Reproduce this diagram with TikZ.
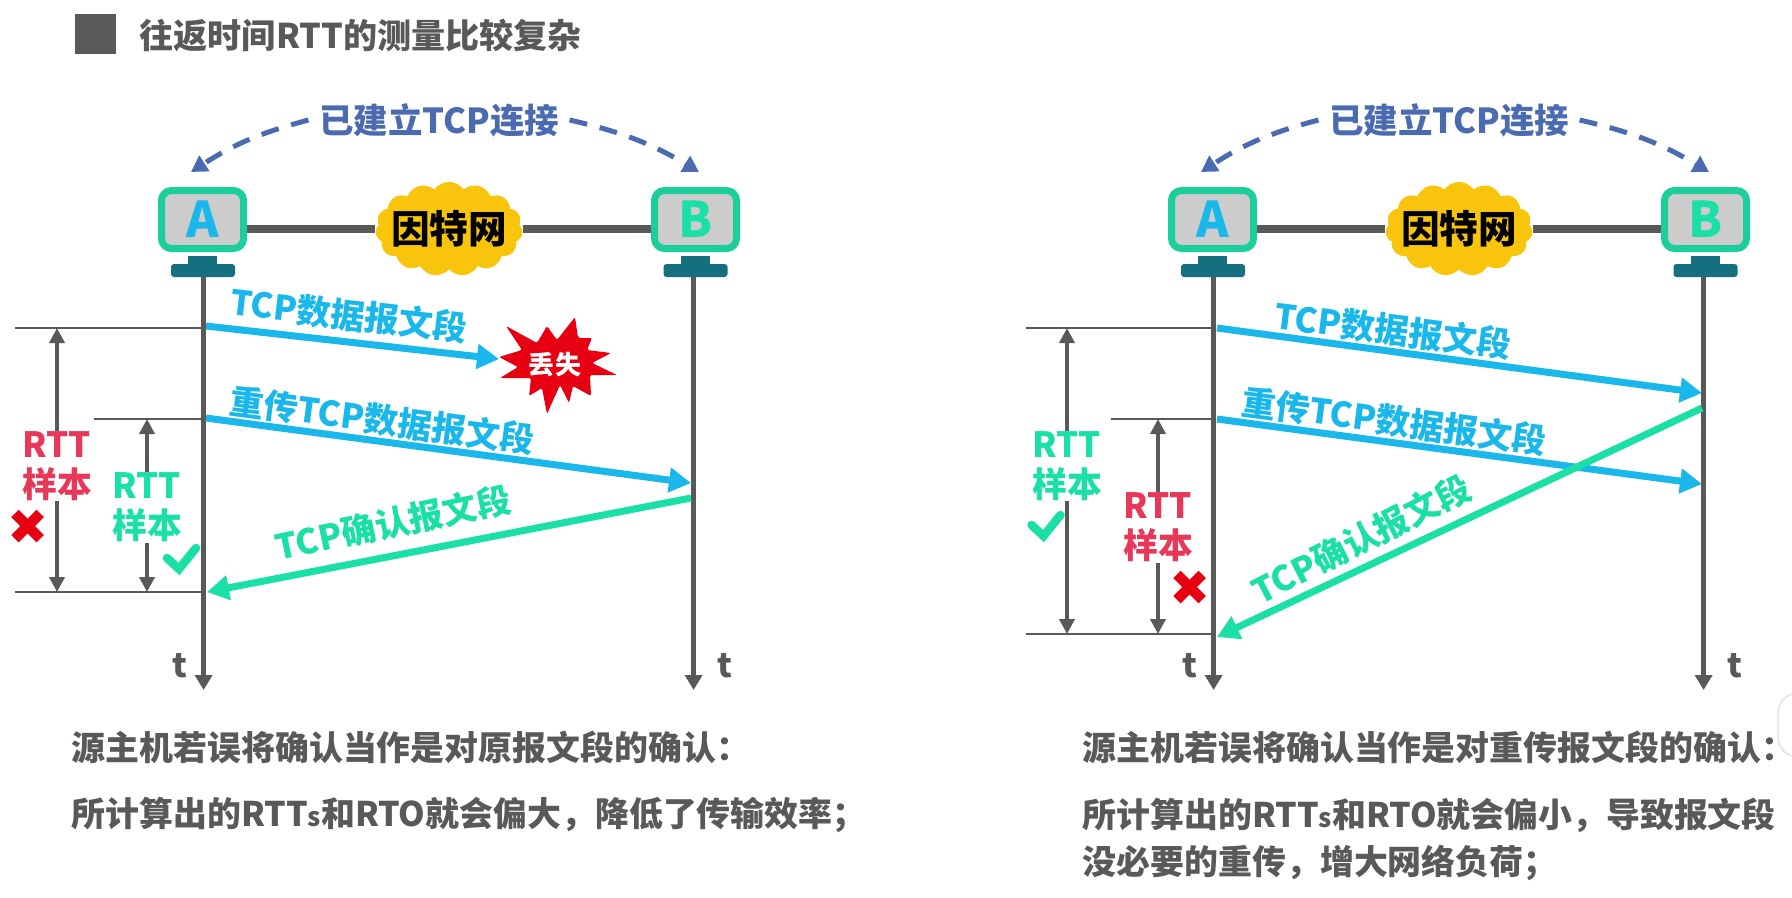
\documentclass[tikz,border=0pt]{standalone}
\usepackage{fontspec}
\setmainfont{Noto Sans CJK SC}
\usetikzlibrary{arrows.meta,positioning,shapes.symbols}
\definecolor{txtgray}{HTML}{595959}
\definecolor{cyanblue}{HTML}{1AB8EA}
\definecolor{mintgreen}{HTML}{1ADFA6}
\definecolor{rttred}{HTML}{E8385A}
\definecolor{markred}{HTML}{E60012}
\definecolor{monitorgreen}{HTML}{1CCF9A}
\definecolor{standteal}{HTML}{14707F}
\definecolor{linkblue}{HTML}{4A6BB0}
\definecolor{cloudyellow}{HTML}{F8C50C}
\newcommand{\smalls}{{\fontsize{7.4pt}{7.4pt}\selectfont s}}
\tikzset{
  monitorbox/.style={draw=monitorgreen,line width=0.7mm,rounded corners=1mm,fill=black!20,minimum width=0.82cm,minimum height=0.58cm,inner sep=0pt,font=\fontsize{14pt}{14pt}\selectfont\bfseries},
  neckbox/.style={fill=standteal,minimum width=0.29cm,minimum height=0.09cm,inner sep=0pt},
  basebox/.style={fill=standteal,rounded corners=0.3mm,minimum width=0.64cm,minimum height=0.13cm,inner sep=0pt},
  netcloud/.style={cloud,cloud puffs=15,cloud puff arc=110,aspect=1.75,fill=cloudyellow,inner sep=-0.8mm,font=\fontsize{11pt}{11pt}\selectfont\bfseries},
  netlink/.style={draw=txtgray,line width=0.8mm},
  timeline/.style={draw=txtgray,line width=0.55mm,-{Triangle[length=1.5mm,width=1.7mm]}},
  linkarrow/.style={draw=linkblue,line width=0.5mm,dash pattern=on 1.8mm off 1.3mm,-{Triangle[length=1.6mm,width=1.8mm]}},
  linklabel/.style={text=linkblue,font=\fontsize{9.8pt}{9.8pt}\selectfont\bfseries,inner sep=1mm},
  dataarrow/.style={draw=cyanblue,line width=0.7mm,-{Triangle[length=2.2mm,width=2.4mm]}},
  ackarrow/.style={draw=mintgreen,line width=0.7mm,-{Triangle[length=2.2mm,width=2.4mm]}},
  datalabel/.style={text=cyanblue,font=\fontsize{9.75pt}{9.75pt}\selectfont\bfseries,inner sep=0pt},
  acklabel/.style={text=mintgreen,font=\fontsize{9.8pt}{9.8pt}\selectfont\bfseries,inner sep=0pt},
  lostburst/.style={fill=markred,rounded corners=0.2mm},
  lostlabel/.style={text=white,inner sep=0pt,font=\fontsize{7.4pt}{7.4pt}\selectfont\bfseries},
  tickline/.style={draw=txtgray,line width=0.25mm},
  spanarrow/.style={draw=txtgray,line width=0.4mm,-{Triangle[length=1.5mm,width=1.5mm]}},
  rttred/.style={text=rttred,align=center,inner sep=0pt,font=\fontsize{9.9pt}{11.4pt}\selectfont\bfseries},
  rttgreen/.style={text=mintgreen,align=center,inner sep=0pt,font=\fontsize{9.9pt}{11.4pt}\selectfont\bfseries},
  crossmark/.style={text=markred,inner sep=0pt,font=\fontspec{DejaVu Sans}\fontsize{14pt}{14pt}\selectfont},
  checkmark/.style={draw=mintgreen,line width=0.85mm,line cap=round,line join=miter},
  timelabel/.style={text=txtgray,inner sep=0pt,font=\fontsize{9.5pt}{9.5pt}\selectfont\bfseries},
  bodytext/.style={text=txtgray,anchor=west,inner sep=0pt,font=\fontsize{9.65pt}{9.65pt}\selectfont\bfseries},
  edgetab/.style={draw=black!12,fill=white,rounded corners=2mm}
}
\begin{document}
\begin{tikzpicture}
\useasboundingbox (0,0) rectangle (17.92,-8.97);
\node[fill=black!65,minimum width=0.41cm,minimum height=0.40cm,inner sep=0pt] (mark) at (0.955,-0.34) {};
\node[bodytext,font=\fontsize{9.7pt}{9.7pt}\selectfont\bfseries] (title) at (1.39,-0.35) {往返时间RTT的测量比较复杂};
% left case
\node[monitorbox,text=cyanblue] (ma) at (2.025,-2.195) {A};
\node[monitorbox,text=mintgreen] (mb) at (6.955,-2.195) {B};
\node[neckbox] (na) at (2.025,-2.6) {};
\node[neckbox] (nb) at (6.955,-2.6) {};
\node[basebox] (ba) at (2.03,-2.705) {};
\node[basebox] (bb) at (6.955,-2.705) {};
\node[netcloud] (cl) at (4.49,-2.29) {因特网};
\draw[netlink] (ma.east |- cl.west) -- (cl.west);
\draw[netlink] (cl.east) -- (mb.west |- cl.east);
\node[linklabel] (lb) at (4.39,-1.2) {已建立TCP连接};
\coordinate (la) at (1.91,-1.72);
\coordinate (lc) at (6.99,-1.72);
\draw[linkarrow] (lb.west) to[bend right=9] (la);
\draw[linkarrow] (lb.east) to[bend left=9] (lc);
\coordinate (ta) at (2.036,-2.77);
\coordinate (tb) at (6.936,-2.77);
\coordinate (ea) at (2.036,-6.9);
\coordinate (eb) at (6.936,-6.9);
\draw[timeline] (ta) -- (ea);
\draw[timeline] (tb) -- (eb);
\node[timelabel] (tl) at (1.8,-6.66) {t};
\node[timelabel] (tr) at (7.25,-6.66) {t};
\fill[lostburst] (5.06,-3.26) -- (5.37,-3.43) -- (5.47,-3.26) -- (5.57,-3.40) -- (5.75,-3.17) -- (5.78,-3.38) -- (5.92,-3.38) -- (5.87,-3.50) -- (6.11,-3.53) -- (5.92,-3.63) -- (6.17,-3.75) -- (5.90,-3.75) -- (5.91,-3.96) -- (5.73,-3.86) -- (5.69,-4.03) -- (5.60,-3.85) -- (5.47,-4.14) -- (5.42,-3.88) -- (5.29,-3.96) -- (5.31,-3.78) -- (5.00,-3.78) -- (5.18,-3.67) -- (4.99,-3.57) -- (5.22,-3.50) -- cycle;
\node[lostlabel] (bu) at (5.55,-3.65) {丢失};
\coordinate (d0) at (2.06,-3.26);
\coordinate (d1) at (4.99,-3.59);
\draw[dataarrow] (d0) -- (d1);
\node[datalabel,rotate=-6.5] (d1t) at (3.49,-3.15) {TCP数据报文段};
\coordinate (r0) at (2.06,-4.18);
\coordinate (r1) at (6.91,-4.83);
\draw[dataarrow] (r0) -- (r1);
\node[datalabel,rotate=-7.5] (r1t) at (3.82,-4.2) {重传TCP数据报文段};
\coordinate (k0) at (6.91,-4.98);
\coordinate (k1) at (2.07,-5.92);
\draw[ackarrow] (k0) -- (k1);
\node[acklabel,rotate=12] (k1t) at (3.93,-5.23) {TCP确认报文段};
\coordinate (u1) at (0.155,-3.28);
\coordinate (u2) at (0.935,-4.19);
\coordinate (u3) at (0.155,-5.92);
\draw[tickline] (u1) -- (u1 -| ta);
\draw[tickline] (u2) -- (u2 -| ta);
\draw[tickline] (u3) -- (u3 -| ta);
\node[rttred] (s1) at (0.57,-4.66) {RTT\\样本};
\node[rttgreen] (s2) at (1.47,-5.075) {RTT\\样本};
\draw[spanarrow] (s1.north) -- (s1.north |- u1);
\draw[spanarrow] (s1.south) -- (s1.south |- u3);
\draw[spanarrow] (s2.north) -- (s2.north |- u2);
\draw[spanarrow] (s2.south) -- (s2.south |- u3);
\node[crossmark] (x1) at (0.28,-5.27) {✖};
\draw[checkmark] (1.67,-5.58) -- (1.79,-5.69) -- (1.96,-5.48);
% right case
\node[monitorbox,text=cyanblue] (mar) at (12.125,-2.195) {A};
\node[monitorbox,text=mintgreen] (mbr) at (17.055,-2.195) {B};
\node[neckbox] (nar) at (12.125,-2.6) {};
\node[neckbox] (nbr) at (17.055,-2.6) {};
\node[basebox] (bar) at (12.13,-2.705) {};
\node[basebox] (bbr) at (17.055,-2.705) {};
\node[netcloud] (clr) at (14.59,-2.29) {因特网};
\draw[netlink] (mar.east |- clr.west) -- (clr.west);
\draw[netlink] (clr.east) -- (mbr.west |- clr.east);
\node[linklabel] (lbr) at (14.49,-1.2) {已建立TCP连接};
\coordinate (lar) at (12.01,-1.72);
\coordinate (lcr) at (17.09,-1.72);
\draw[linkarrow] (lbr.west) to[bend right=9] (lar);
\draw[linkarrow] (lbr.east) to[bend left=9] (lcr);
\coordinate (tar) at (12.136,-2.77);
\coordinate (tbr) at (17.036,-2.77);
\coordinate (ear) at (12.136,-6.9);
\coordinate (ebr) at (17.036,-6.9);
\draw[timeline] (tar) -- (ear);
\draw[timeline] (tbr) -- (ebr);
\node[timelabel] (tlr) at (11.9,-6.66) {t};
\node[timelabel] (trr) at (17.35,-6.66) {t};
\coordinate (d0r) at (12.17,-3.28);
\coordinate (d1r) at (17.02,-3.93);
\draw[dataarrow] (d0r) -- (d1r);
\node[datalabel,rotate=-7] (d1tr) at (13.93,-3.3) {TCP数据报文段};
\coordinate (r0r) at (12.17,-4.19);
\coordinate (r1r) at (17.02,-4.84);
\draw[dataarrow] (r0r) -- (r1r);
\node[datalabel,rotate=-7.5] (r1tr) at (13.94,-4.21) {重传TCP数据报文段};
\coordinate (k0r) at (17.02,-4.08);
\coordinate (k1r) at (12.17,-6.37);
\draw[ackarrow] (k0r) -- (k1r);
\node[acklabel,rotate=27] (k1tr) at (13.61,-5.39) {TCP确认报文段};
\coordinate (u1r) at (10.26,-3.28);
\coordinate (u2r) at (11.11,-4.19);
\coordinate (u3r) at (10.26,-6.34);
\draw[tickline] (u1r) -- (u1r -| tar);
\draw[tickline] (u2r) -- (u2r -| tar);
\draw[tickline] (u3r) -- (u3r -| tar);
\node[rttgreen] (s1r) at (10.67,-4.66) {RTT\\样本};
\node[rttred] (s2r) at (11.58,-5.275) {RTT\\样本};
\draw[spanarrow] (s1r.north) -- (s1r.north |- u1r);
\draw[spanarrow] (s1r.south) -- (s1r.south |- u3r);
\draw[spanarrow] (s2r.north) -- (s2r.north |- u2r);
\draw[spanarrow] (s2r.south) -- (s2r.south |- u3r);
\draw[checkmark] (10.315,-5.25) -- (10.435,-5.36) -- (10.605,-5.15);
\node[crossmark] (x1r) at (11.9,-5.88) {✖};
% notes
\node[bodytext] (p1) at (0.71,-7.47) {源主机若误将确认当作是对原报文段的确认：};
\node[bodytext] (p2) at (0.71,-8.15) {所计算出的RTT\smalls{}和RTO就会偏大，降低了传输效率；};
\node[bodytext] (q1) at (10.82,-7.47) {源主机若误将确认当作是对重传报文段的确认：};
\node[bodytext] (q2) at (10.82,-8.15) {所计算出的RTT\smalls{}和RTO就会偏小，导致报文段};
\node[bodytext] (q3) at (10.82,-8.63) {没必要的重传，增大网络负荷；};
\draw[edgetab] (17.78,-6.93) rectangle (18.2,-7.57);
\end{tikzpicture}
\end{document}
